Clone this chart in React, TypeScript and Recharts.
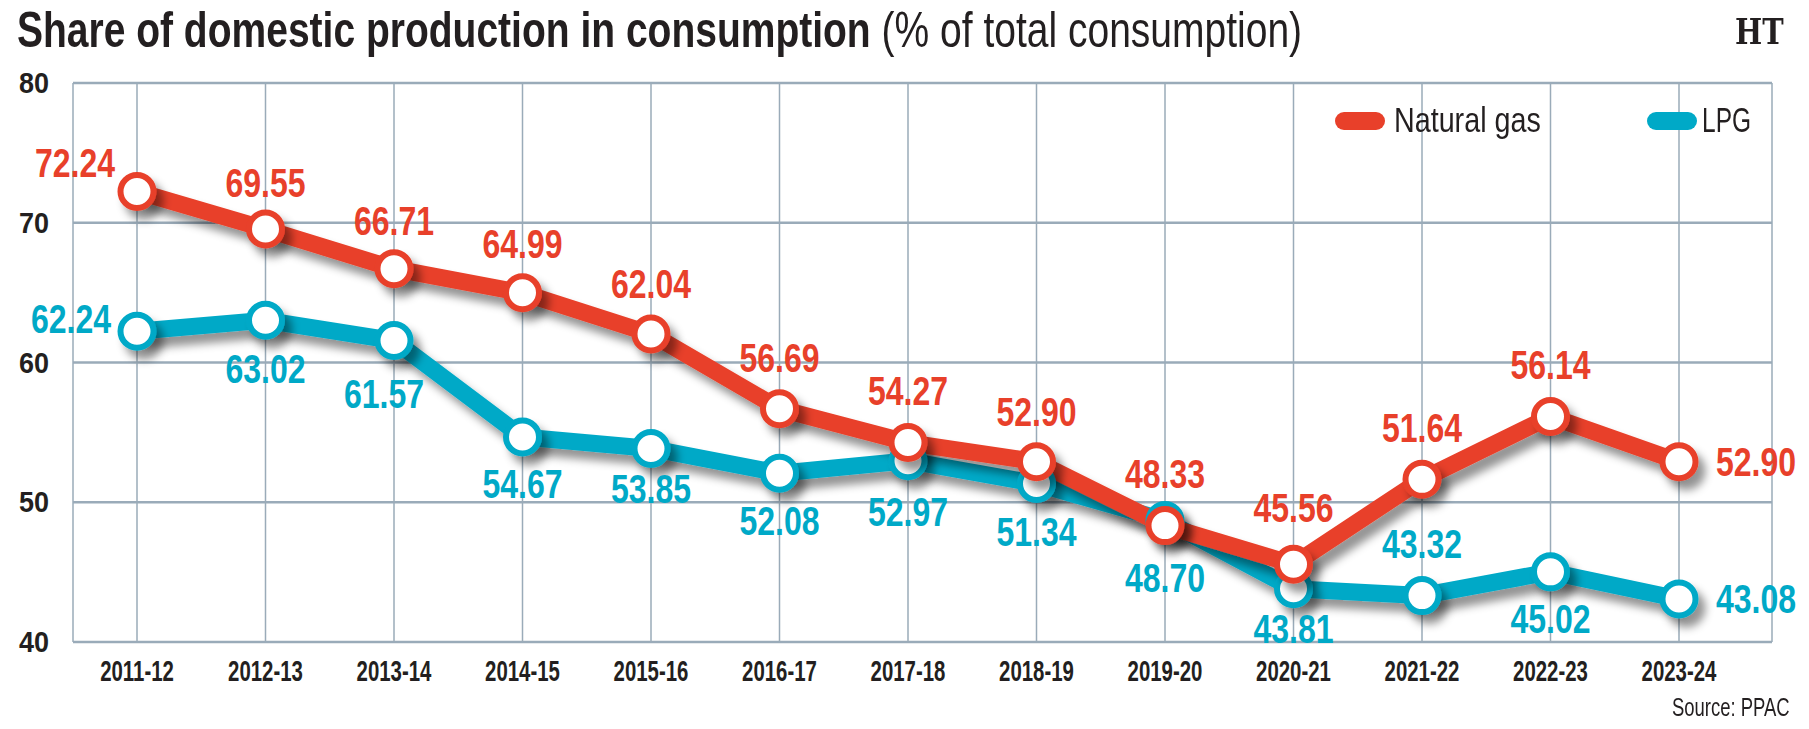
import React from 'react';
import { LineChart, Line, XAxis, YAxis, CartesianGrid, LabelList } from 'recharts';

// values (source: PPAC)
const years = [
  '2011-12', '2012-13', '2013-14', '2014-15', '2015-16', '2016-17', '2017-18',
  '2018-19', '2019-20', '2020-21', '2021-22', '2022-23', '2023-24',
];
const naturalGas = [72.24, 69.55, 66.71, 64.99, 62.04, 56.69, 54.27, 52.9, 48.33, 45.56, 51.64, 56.14, 52.9];
const lpg = [62.24, 63.02, 61.57, 54.67, 53.85, 52.08, 52.97, 51.34, 48.7, 43.81, 43.32, 45.02, 43.08];
const yTicks = [40, 50, 60, 70, 80];

const RED = '#e8402a';
const BLUE = '#00a9c7';
const GRID = '#9aabb9';
const INK = '#231f20';
const FONT = '"Liberation Sans", Arial, sans-serif';

const data = years.map((year, i) => ({ year, gas: naturalGas[i], lpg: lpg[i] }));

type Pos = { anchor: 'start' | 'middle' | 'end'; dx: number; dy: number };
const above = (dy = -35): Pos => ({ anchor: 'middle', dx: 0, dy });
const below = (dy = 60, dx = 0): Pos => ({ anchor: 'middle', dx, dy });

// label placement relative to each point
const gasLabelPos: Pos[] = [
  { anchor: 'end', dx: -22, dy: -14 },
  above(-32), above(-34), above(-35), above(-36), above(-37), above(-38),
  above(-36), above(-38), above(-42), above(-37), above(-37),
  { anchor: 'start', dx: 37, dy: 14 },
];
const lpgLabelPos: Pos[] = [
  { anchor: 'end', dx: -26, dy: 2 },
  below(63), below(67, -10), below(61), below(55), below(62), below(65),
  below(62), below(72), below(54), above(-38), below(61),
  { anchor: 'start', dx: 37, dy: 14 },
];

// condensed look: Liberation Sans squeezed horizontally
const Squeezed = ({ x, y, sx, anchor, children, ...rest }: any) => (
  <text transform={`translate(${x},${y}) scale(${sx},1)`} textAnchor={anchor} fontFamily={FONT} {...rest}>
    {children}
  </text>
);

const makeLabel = (color: string, pos: Pos[]) => (props: any) => {
  const { x, y, value, index } = props;
  const p = pos[index] ?? above();
  return (
    <Squeezed x={x + p.dx} y={y + p.dy} sx={0.8} anchor={p.anchor} fill={color} fontWeight={700} fontSize={40}>
      {Number(value).toFixed(2)}
    </Squeezed>
  );
};

const YTick = (props: any) => {
  const { x, y, payload } = props;
  return (
    <Squeezed x={x - 24} y={y + 10} sx={0.9} anchor="end" fill={INK} fontWeight={700} fontSize={30}>
      {payload.value}
    </Squeezed>
  );
};

const XTick = (props: any) => {
  const { x, y, payload } = props;
  return (
    <Squeezed x={x} y={y + 39} sx={0.68} anchor="middle" fill={INK} fontWeight={700} fontSize={30}>
      {payload.value}
    </Squeezed>
  );
};

const squeeze = (sx: number): React.CSSProperties => ({
  display: 'inline-block',
  transform: `scaleX(${sx})`,
  transformOrigin: 'left center',
  whiteSpace: 'nowrap',
});

const pill = (color: string, left: number): React.CSSProperties => ({
  position: 'absolute',
  left,
  top: 112,
  width: 50,
  height: 18,
  borderRadius: 9,
  background: color,
});

export default function App() {
  return (
    <div style={{ position: 'absolute', left: 0, top: 0, width: 1809, height: 729, background: '#fff', fontFamily: FONT, color: INK }}>
      <style>{`.recharts-line-curve, .recharts-line-dots { filter: url(#softShadow); }`}</style>
      <svg width={0} height={0} style={{ position: 'absolute' }}>
        <defs>
          <filter id="softShadow" x="-20%" y="-20%" width="140%" height="160%">
            <feDropShadow dx={7} dy={9} stdDeviation={4} floodColor="#000" floodOpacity={0.42} />
          </filter>
        </defs>
      </svg>

      <div style={{ position: 'absolute', left: 17, top: 5, fontSize: 50, lineHeight: '50px' }}>
        <span style={squeeze(0.78)}>
          <b>Share of domestic production in consumption</b> (% of total consumption)
        </span>
      </div>
      <div style={{ position: 'absolute', left: 1735, top: 10, fontFamily: '"DejaVu Serif", serif', fontWeight: 700, fontSize: 36 }}>
        <span style={squeeze(0.8)}>HT</span>
      </div>

      <LineChart width={1809} height={729} data={data} margin={{ top: 83, right: 37, left: 0, bottom: 0 }}>
        <CartesianGrid stroke={GRID} strokeWidth={1.5} horizontal={false} />
        <CartesianGrid stroke={GRID} strokeWidth={2.5} vertical={false} />
        <XAxis
          dataKey="year"
          height={87}
          padding={{ left: 64, right: 93 }}
          axisLine={false}
          tickLine={false}
          tickSize={0}
          tickMargin={0}
          tick={<XTick />}
          interval={0}
        />
        <YAxis
          width={73}
          domain={[40, 80]}
          ticks={yTicks}
          axisLine={false}
          tickLine={false}
          tickSize={0}
          tickMargin={0}
          tick={<YTick />}
        />
        <Line
          type="linear"
          dataKey="lpg"
          name="LPG"
          stroke={BLUE}
          strokeWidth={17}
          dot={{ r: 16.5, fill: '#fff', stroke: BLUE, strokeWidth: 6 }}
          activeDot={false}
          isAnimationActive={false}
        >
          <LabelList dataKey="lpg" content={makeLabel(BLUE, lpgLabelPos)} />
        </Line>
        <Line
          type="linear"
          dataKey="gas"
          name="Natural gas"
          stroke={RED}
          strokeWidth={17}
          dot={{ r: 16.5, fill: '#fff', stroke: RED, strokeWidth: 6 }}
          activeDot={false}
          isAnimationActive={false}
        >
          <LabelList dataKey="gas" content={makeLabel(RED, gasLabelPos)} />
        </Line>
      </LineChart>

      <div style={pill(RED, 1335)} />
      <div style={{ position: 'absolute', left: 1394, top: 100, fontSize: 35, lineHeight: '40px' }}>
        <span style={squeeze(0.82)}>Natural gas</span>
      </div>
      <div style={pill(BLUE, 1647)} />
      <div style={{ position: 'absolute', left: 1702, top: 100, fontSize: 35, lineHeight: '40px' }}>
        <span style={squeeze(0.7)}>LPG</span>
      </div>

      <div style={{ position: 'absolute', left: 1672, top: 692, fontSize: 26, lineHeight: '30px' }}>
        <span style={squeeze(0.71)}>Source: PPAC</span>
      </div>
    </div>
  );
}
